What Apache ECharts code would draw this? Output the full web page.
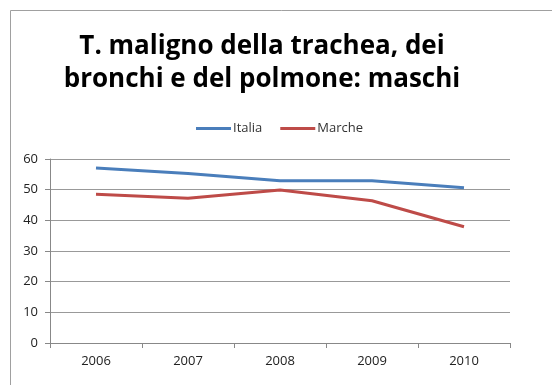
<!DOCTYPE html>
<html><head><meta charset="utf-8">
<script src="https://cdn.jsdelivr.net/npm/echarts@6/dist/echarts.min.js"></script>
<style>html,body{margin:0;padding:0;background:#fff}#c{width:552px;height:385px}</style>
</head><body><div id="c"></div>
<script>
const categories = ['2006','2007','2008','2009','2010'];
const italia = [57.1, 55.3, 52.9, 52.9, 50.6];
const marche = [48.5, 47.2, 49.9, 46.4, 37.9];
const yTicks = [0, 10, 20, 30, 40, 50, 60];
const FONT = '"Open Sans", Lato, sans-serif';
const chart = echarts.init(document.getElementById('c'));
chart.setOption({
  animation: false,
  backgroundColor: '#fff',
  graphic: [{type:'rect', left:8, top:8, shape:{width:600, height:375}, style:{fill:'none', stroke:'#a0a0a0', lineWidth:1}, silent:true}],
  title: {
    text: 'T. maligno della trachea, dei\nbronchi e del polmone: maschi',
    left: 257, top: 25, textAlign: 'center',
    textStyle: {fontFamily: FONT, fontWeight: 'bold', fontSize: 26, lineHeight: 33, color: '#000'}
  },
  legend: {
    data: ['Italia','Marche'], top: 117, left: 191,
    itemWidth: 35, itemHeight: 3, itemGap: 18,
    icon: 'rect',
    textStyle: {fontFamily: FONT, fontSize: 13, color: '#333', padding:[0,0,0,-3]}
  },
  grid: {left: 50, right: 42, top: 159, bottom: 42},
  xAxis: {
    type: 'category', data: categories, boundaryGap: true,
    axisLine: {lineStyle: {color: '#888'}},
    axisTick: {show: true, length: 5, lineStyle: {color: '#888'}},
    axisLabel: {fontFamily: FONT, fontSize: 13, color: '#222', margin: 12}
  },
  yAxis: {
    type: 'value', min: yTicks[0], max: yTicks[yTicks.length-1], interval: 10,
    axisLine: {show: true, lineStyle: {color: '#888'}},
    axisTick: {show: true, length: 5, lineStyle: {color: '#888'}},
    splitLine: {lineStyle: {color: '#999'}},
    axisLabel: {fontFamily: FONT, fontSize: 13, color: '#222', margin: 12}
  },
  series: [
    {name: 'Italia', type: 'line', data: italia, symbol: 'none', lineStyle: {width: 3, color: '#4a7ebb'}, itemStyle: {color: '#4a7ebb'}},
    {name: 'Marche', type: 'line', data: marche, symbol: 'none', lineStyle: {width: 3, color: '#be4b48'}, itemStyle: {color: '#be4b48'}}
  ]
});
</script></body></html>
